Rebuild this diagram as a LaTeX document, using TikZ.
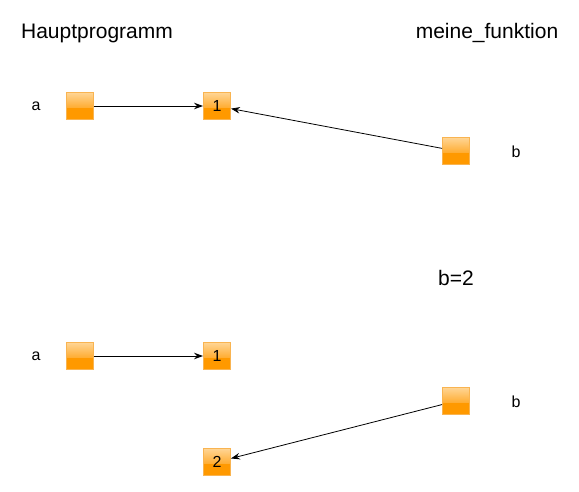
\documentclass[tikz,border=0pt]{standalone}
\usepackage{fontspec}
\setmainfont{Liberation Sans}
\usetikzlibrary{arrows.meta}

\definecolor{boxtop}{HTML}{FFD595}
\definecolor{boxmid}{HTML}{FFAE35}
\definecolor{boxbot}{HTML}{FF9900}
\definecolor{boxrim}{HTML}{F9B451}

\begin{document}
\begin{tikzpicture}[x=1pt,y=-1pt,->,>={Stealth[length=9pt,width=6.5pt,inset=3pt]},
                    line width=0.8pt]
  \tikzstyle{var}=[draw=boxrim,line width=0.9pt,minimum size=27pt,inner sep=0pt,
                   font=\fontsize{16}{18}\selectfont,
                   path picture={
                     \fill[boxbot] (path picture bounding box.south west)
                        rectangle (path picture bounding box.north east);
                     \shade[top color=boxtop,bottom color=boxmid]
                        (path picture bounding box.north west)
                        rectangle ([yshift=-1pt]path picture bounding box.east);
                   }]
  \tikzstyle{label}=[font=\fontsize{16}{18}\selectfont]
  \tikzstyle{title}=[font=\fontsize{21}{24}\selectfont]

  \useasboundingbox (0,0) rectangle (579,491);

  \node[title] (HP) at (97,33)  {Hauptprogramm};
  \node[title] (MF) at (487,33) {meine\_funktion};

  % vor der Zuweisung
  \node[label] (la) at (36,106)  {a};
  \node[var]   (A)  at (80,106)  {};
  \node[var]   (E)  at (217,106) {1};
  \node[var]   (B)  at (456,151) {};
  \node[label] (lb) at (516,152) {b};

  % nach b=2
  \node[title] (ZW) at (456,278) {b=2};
  \node[label] (la2) at (36,356)  {a};
  \node[var]   (A2)  at (80,356)  {};
  \node[var]   (E2)  at (217,356) {1};
  \node[var]   (B2)  at (456,401) {};
  \node[label] (lb2) at (516,402) {b};
  \node[var]   (Z2)  at (217,462) {2};

  \path (A)  edge (E)
        (B)  edge (E)
        (A2) edge (E2)
        (B2) edge (Z2);
\end{tikzpicture}
\end{document}
